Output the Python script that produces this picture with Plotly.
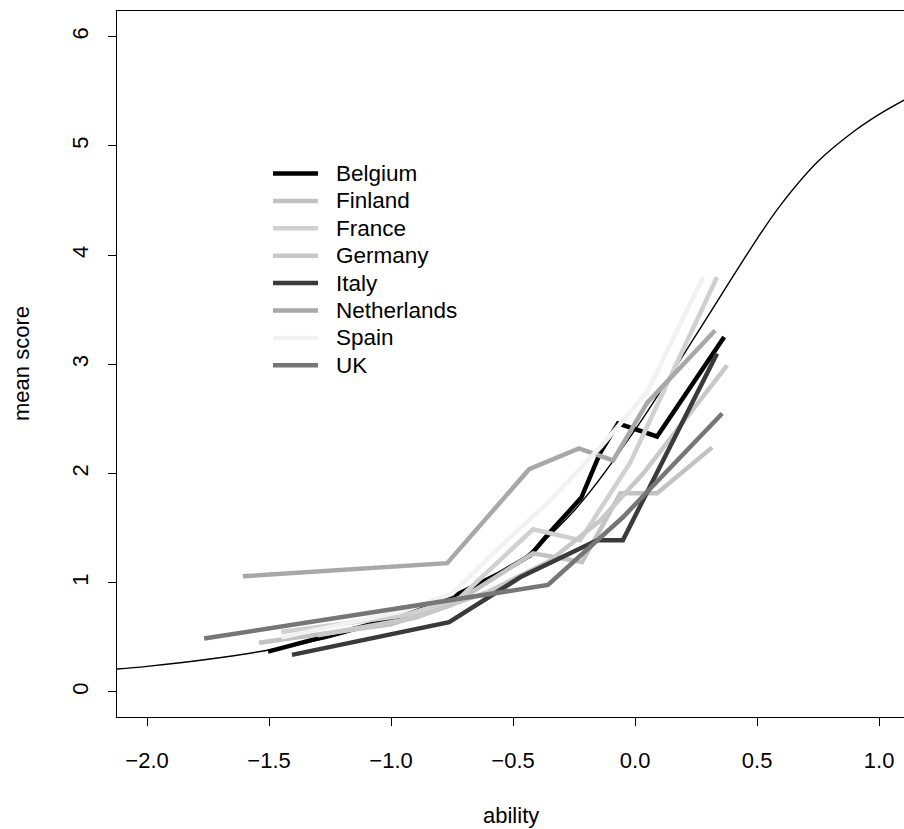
import plotly.graph_objects as go

# model curve
curve_x = [-2.123, -2.0, -1.75, -1.5, -1.25, -1.0, -0.75, -0.5, -0.25, 0.0, 0.25, 0.5, 0.6, 0.75, 0.9, 1.0, 1.102]
curve_y = [0.21, 0.235, 0.30, 0.385, 0.50, 0.67, 0.88, 1.16, 1.66, 2.40, 3.27, 4.15, 4.47, 4.86, 5.14, 5.29, 5.42]

countries = ["Belgium", "Finland", "France", "Germany", "Italy", "Netherlands", "Spain", "UK"]
colors = ["#000000", "#c2c2c2", "#d0d0d0", "#c8c8c8", "#3a3a3a", "#a8a8a8", "#f2f2f2", "#767676"]

belgium_x = [-1.504, -1.21, -0.95, -0.75, -0.553, -0.43, -0.35, -0.22, -0.143, -0.07, 0.09, 0.365]
belgium_y = [0.37, 0.54, 0.70, 0.87, 1.09, 1.25, 1.46, 1.78, 2.19, 2.46, 2.34, 3.25]
finland_x = [-1.541, -1.0, -0.75, -0.418, -0.217, -0.06, 0.09, 0.316]
finland_y = [0.45, 0.62, 0.80, 1.27, 1.19, 1.82, 1.82, 2.24]
france_x = [-1.45, -0.95, -0.72, -0.418, -0.225, -0.02, 0.336]
france_y = [0.55, 0.70, 0.86, 1.49, 1.39, 2.10, 3.80]
germany_x = [-1.30, -0.90, -0.60, -0.35, -0.143, 0.033, 0.377]
germany_y = [0.52, 0.68, 0.92, 1.20, 1.57, 2.00, 2.99]
italy_x = [-1.406, -0.762, -0.471, -0.155, -0.05, 0.336]
italy_y = [0.34, 0.64, 1.05, 1.39, 1.39, 3.10]
netherlands_x = [-1.607, -0.770, -0.434, -0.23, -0.09, 0.05, 0.328]
netherlands_y = [1.06, 1.18, 2.04, 2.23, 2.12, 2.65, 3.31]
spain_x = [-1.45, -0.95, -0.75, -0.553, -0.35, -0.143, 0.05, 0.279]
spain_y = [0.50, 0.74, 0.90, 1.33, 1.75, 2.24, 2.75, 3.80]
uk_x = [-1.766, -0.357, -0.05, 0.357]
uk_y = [0.49, 0.98, 1.60, 2.55]

series_x = [belgium_x, finland_x, france_x, germany_x, italy_x, netherlands_x, spain_x, uk_x]
series_y = [belgium_y, finland_y, france_y, germany_y, italy_y, netherlands_y, spain_y, uk_y]

x_ticks = [-2.0, -1.5, -1.0, -0.5, 0.0, 0.5, 1.0]
y_ticks = [0, 1, 2, 3, 4, 5, 6]

FONT = "Liberation Sans, Arial, Helvetica, sans-serif"
W, H = 904, 829
ML, MR, MT, MB = 117, 0, 11, 112
PW, PH = W - ML - MR, H - MT - MB


def px_x(p):
    return (p - ML) / PW


def px_y(p):
    return (H - MB - p) / PH


fig = go.Figure()
fig.add_trace(go.Scatter(x=curve_x, y=curve_y, mode="lines", line=dict(color="black", width=1.4, shape="spline"),
                         showlegend=False, hoverinfo="skip"))
for name, col, xs, ys in zip(countries, colors, series_x, series_y):
    fig.add_trace(go.Scatter(x=xs, y=ys, mode="lines", name=name, showlegend=False,
                             line=dict(color=col, width=4.5)))

# legend drawn in R style (no box): line sample + label
shapes = []
annotations = []
row0, gap = 173.5, 27.4
for i, (name, col) in enumerate(zip(countries, colors)):
    yc = row0 + i * gap
    shapes.append(dict(type="line", xref="paper", yref="paper", x0=px_x(273), x1=px_x(318),
                       y0=px_y(yc), y1=px_y(yc), line=dict(color=col, width=4.5)))
    annotations.append(dict(text=name, xref="paper", yref="paper", x=px_x(334), y=px_y(yc),
                            showarrow=False, xanchor="left", yanchor="middle", font=dict(size=22.5)))

annotations += [
    dict(text="ability", xref="paper", yref="paper", x=0.5, y=0, yshift=-98,
         showarrow=False, xanchor="center", yanchor="middle", font=dict(size=22)),
    dict(text="mean score", xref="paper", yref="paper", x=0, y=0.5, xshift=-96,
         showarrow=False, textangle=-90, xanchor="center", yanchor="middle", font=dict(size=22)),
]

fig.update_layout(
    width=W, height=H,
    margin=dict(l=ML, r=MR, t=MT, b=MB, autoexpand=False),
    plot_bgcolor="white", paper_bgcolor="white",
    font=dict(family=FONT, size=22, color="black"),
    showlegend=False,
    xaxis=dict(range=[-2.123, 1.102], tickvals=x_ticks, ticktext=[f"{v:.1f}".replace("-", "\u2212") for v in x_ticks],
               showline=True, linecolor="black", linewidth=1, mirror=True, automargin=False,
               ticks="outside", ticklen=8, tickcolor="black", showgrid=False, zeroline=False,
               ticklabelstandoff=16),
    yaxis=dict(range=[-0.229, 6.236], tickvals=y_ticks, ticktext=[str(v) for v in y_ticks],
               showline=True, linecolor="black", linewidth=1, mirror=False, automargin=False,
               ticks="outside", ticklen=8, tickcolor="black", showgrid=False, zeroline=False,
               tickangle=-90, ticklabelstandoff=11),
    shapes=shapes,
    annotations=annotations,
)

fig.write_html("out.html", config={"displayModeBar": False},
               post_script="document.body.style.margin='0px';")
